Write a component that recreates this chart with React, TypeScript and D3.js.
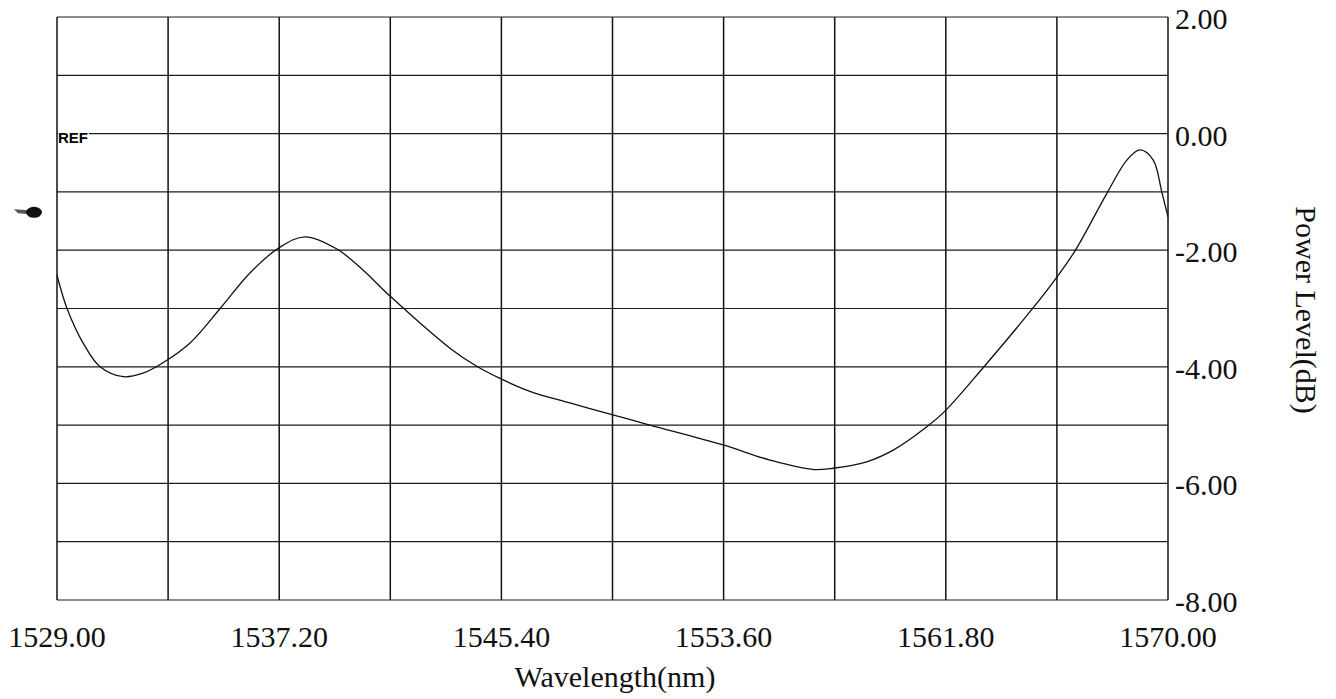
import React from "react";
import * as d3 from "d3";

// values
const wavelength = [
  1529.0, 1529.37, 1529.96, 1530.59, 1531.44, 1532.17, 1532.91, 1533.91, 1535.02,
  1536.12, 1537.19, 1538.15, 1539.33, 1540.29, 1541.32, 1543.5, 1544.52,
  1545.35, 1546.45, 1547.93, 1549.48, 1550.88, 1553.58, 1555.31, 1556.87, 1557.64,
  1558.88, 1559.86, 1561.1, 1561.77, 1563.17, 1565.02, 1565.9, 1566.57, 1567.75, 1568.49,
  1568.97, 1569.45, 1569.78, 1570.0,
];
const power = [
  -2.43, -3.0, -3.59, -4.0, -4.17, -4.11, -3.93, -3.59, -3.0,
  -2.39, -1.96, -1.77, -1.98, -2.34, -2.8, -3.68, -4.0,
  -4.2, -4.42, -4.62, -4.82, -5.0, -5.34, -5.6, -5.76, -5.74,
  -5.63, -5.43, -5.03, -4.76, -4.02, -2.99, -2.46, -2.01, -1.02, -0.45,
  -0.28, -0.45, -1.02, -1.43,
];

const xGrid = [1529, 1533.1, 1537.2, 1541.3, 1545.4, 1549.5, 1553.6, 1557.7, 1561.8, 1565.9, 1570];
const xLabels = [1529, 1537.2, 1545.4, 1553.6, 1561.8, 1570];
const yGrid = [2, 1, 0, -1, -2, -3, -4, -5, -6, -7, -8];
const yLabels = [2, 0, -2, -4, -6, -8];
const refLevel = 0;
const markerLevel = -1.35;

const W = 1336;
const H = 699;
const margin = { top: 17, right: 168, bottom: 99, left: 57 };
const serif = "'Liberation Serif', 'Times New Roman', serif";
// plain hyphen for negatives, like the instrument print-out
const fmt = (v: number) => v.toFixed(2);

export default function App() {
  const x = d3.scaleLinear().domain([1529, 1570]).range([margin.left, W - margin.right]);
  const y = d3.scaleLinear().domain([-8, 2]).range([H - margin.bottom, margin.top]);

  const pts = wavelength.map((w, i) => [w, power[i]] as [number, number]);
  const line = d3.line<[number, number]>()
    .x(d => x(d[0]))
    .y(d => y(d[1]))
    .curve(d3.curveCatmullRom.alpha(0.5));

  const x0 = x.range()[0], x1 = x.range()[1];
  const y0 = y.range()[1], y1 = y.range()[0];
  const my = y(markerLevel);
  const mx = x0 - 23;

  return (
    <svg width={W} height={H} style={{ position: "absolute", left: 0, top: 0, background: "#fff" }}>
      {yGrid.map(v => (
        <line key={"h" + v} x1={x0} x2={x1} y1={y(v)} y2={y(v)} stroke="#1c1c1c" strokeWidth={1.2} />
      ))}
      {xGrid.map(v => (
        <line key={"v" + v} x1={x(v)} x2={x(v)} y1={y0} y2={y1} stroke="#111" strokeWidth={1.5} />
      ))}

      <path d={line(pts) || ""} fill="none" stroke="#111" strokeWidth={1.3} />

      <rect x={x0 + 1} y={y(refLevel) - 3} width={31} height={13} fill="#fff" />
      <text x={x0 + 1} y={y(refLevel) + 9} fontFamily="'Liberation Sans', Arial, sans-serif"
        fontWeight="bold" fontSize={15} fill="#000">REF</text>

      {/* marker blob left of the plot */}
      <path d={`M${mx - 20},${my - 3} L${mx - 4},${my - 2} L${mx - 4},${my + 2} L${mx - 16},${my + 1} Z`} fill="#555" />
      <ellipse cx={mx} cy={my} rx={8} ry={5.5} fill="#111" />

      {xLabels.map(v => (
        <text key={"xl" + v} x={x(v)} y={647} textAnchor="middle" fontFamily={serif} fontSize={30} fill="#111">
          {fmt(v)}
        </text>
      ))}
      {yLabels.map(v => (
        <text key={"yl" + v} x={x1 + 7} y={y(v) + 12} fontFamily={serif} fontSize={30} fill="#111">
          {fmt(v)}
        </text>
      ))}

      <text x={615} y={687} textAnchor="middle" fontFamily={serif} fontSize={30} fill="#111">
        Wavelength(nm)
      </text>
      <text transform={`translate(1296,310) rotate(90)`} textAnchor="middle" fontFamily={serif}
        fontSize={30} fill="#111">
        Power Level(dB)
      </text>
    </svg>
  );
}
